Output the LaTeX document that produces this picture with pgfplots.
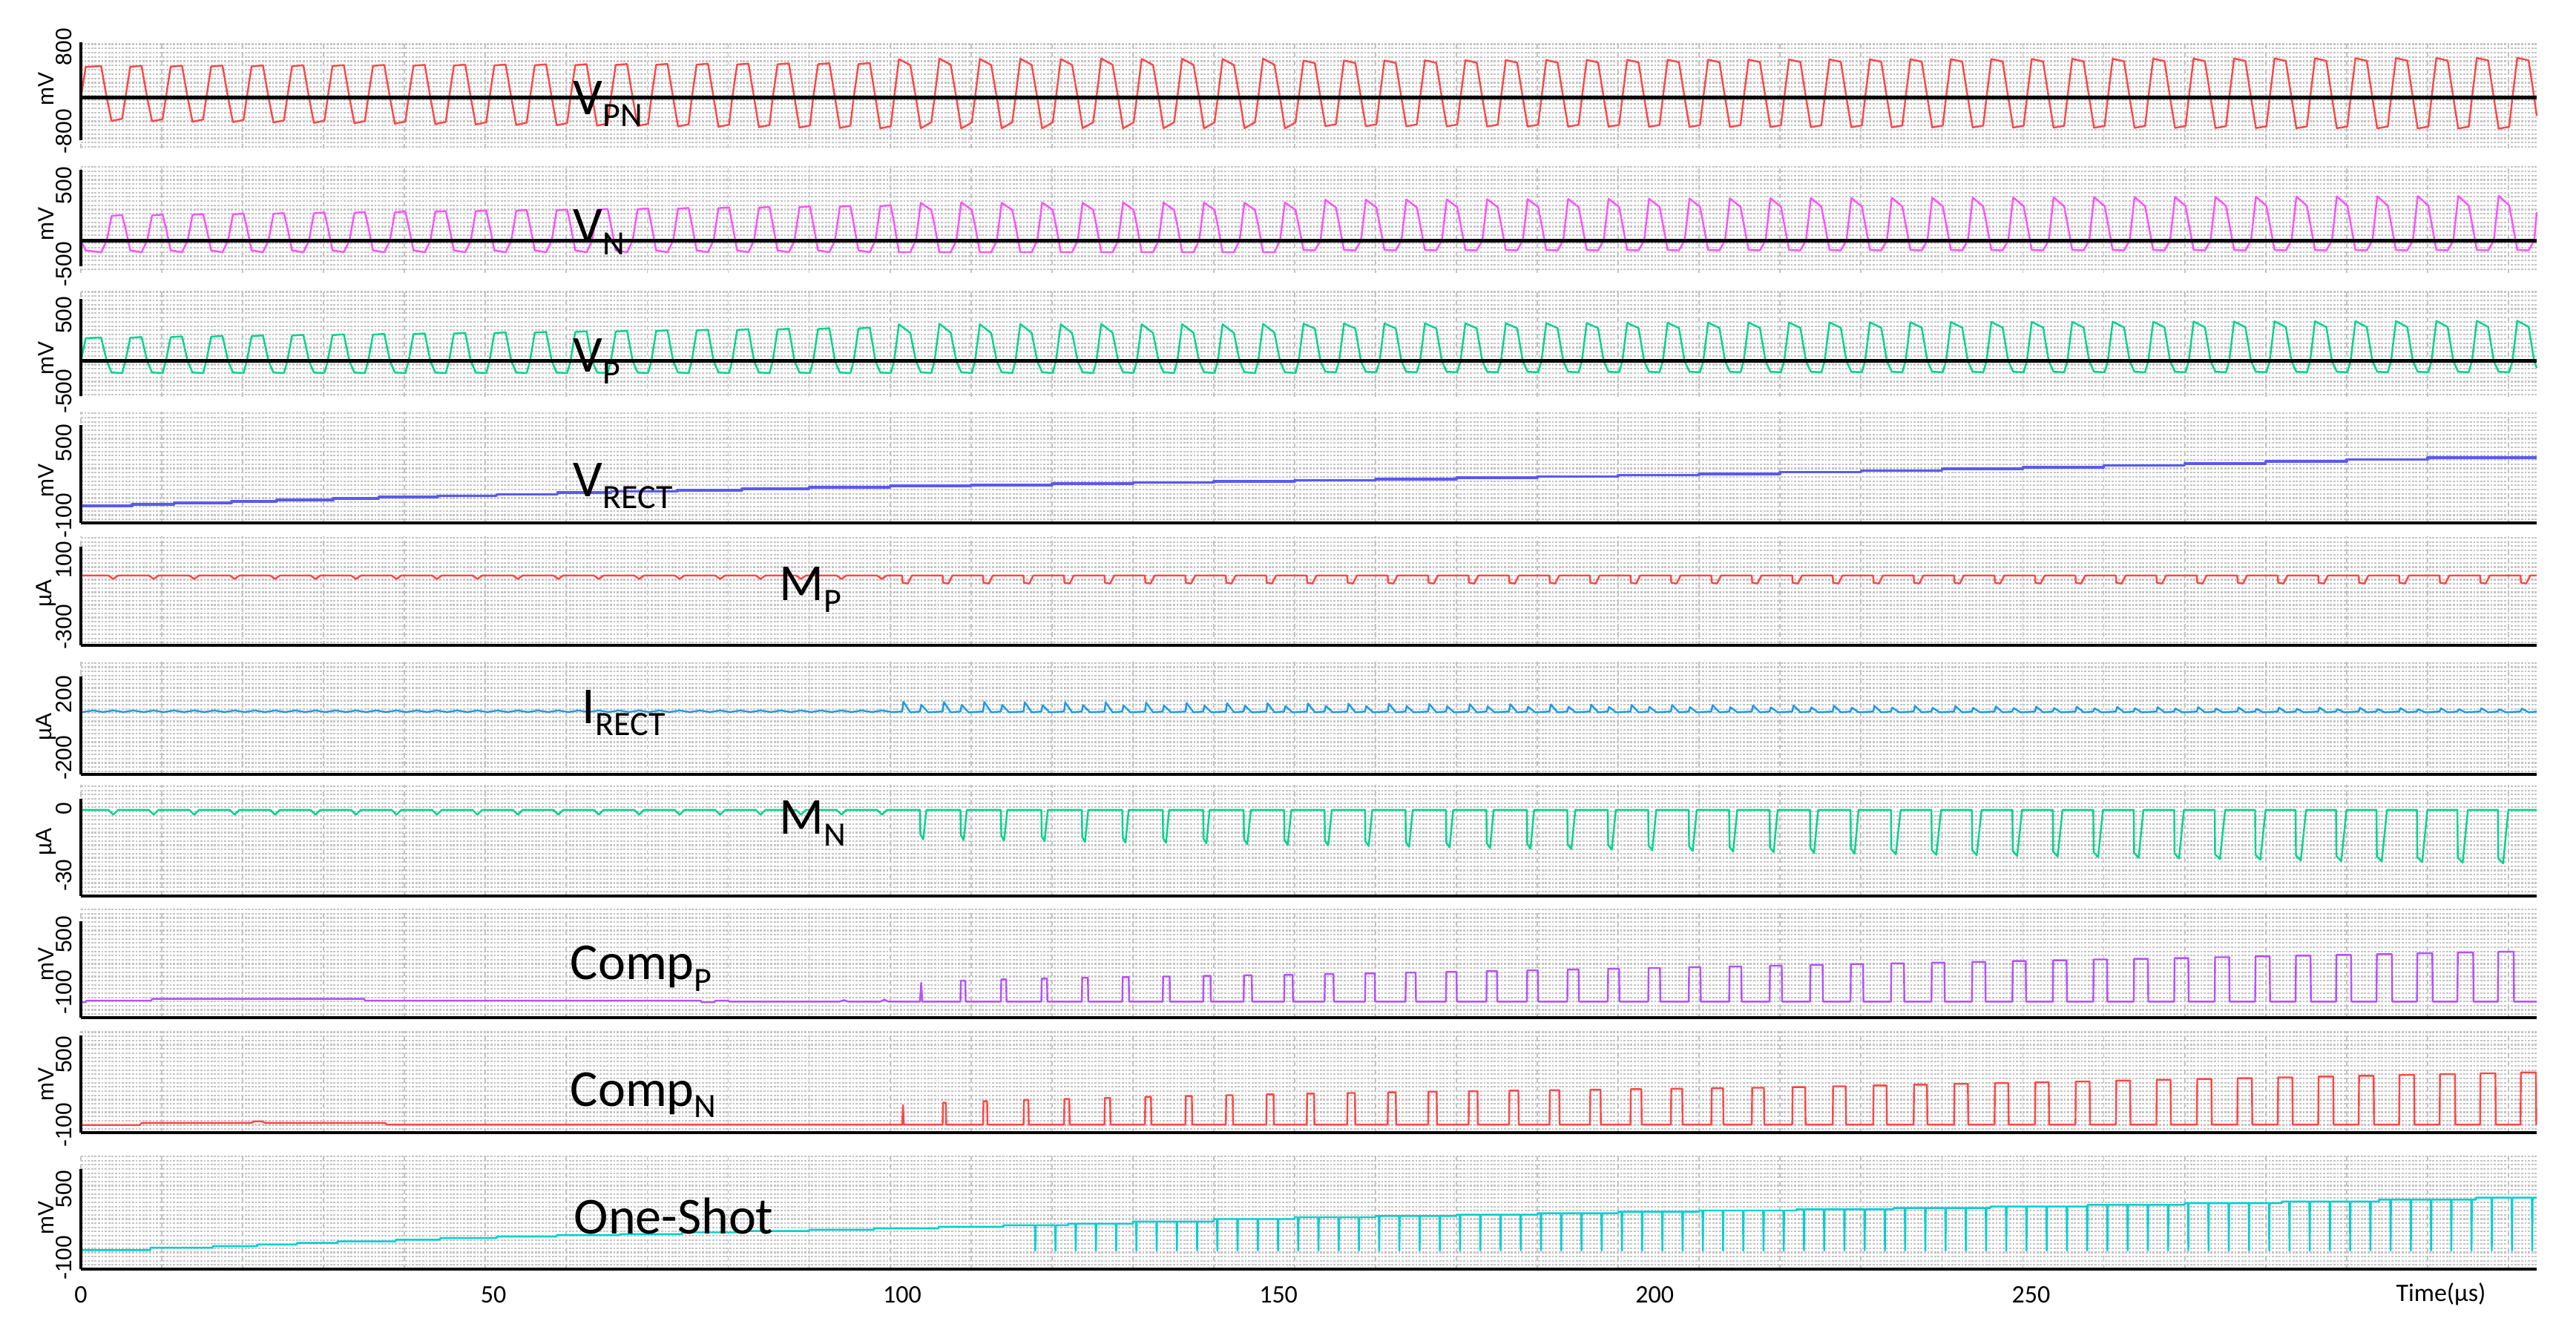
\documentclass[border=0pt]{standalone}
\usepackage{fontspec}
\setmainfont{Carlito}
\newfontfamily\lab{Liberation Sans}
\usepackage{pgfplots}
\usepackage{pgfplotstable}
\pgfplotsset{compat=1.18}

\definecolor{cred}{RGB}{255,70,70}
\definecolor{cmag}{RGB}{255,80,255}
\definecolor{cgrn}{RGB}{0,212,140}
\definecolor{cblu}{RGB}{90,90,238}
\definecolor{csky}{RGB}{30,155,230}
\definecolor{cpur}{RGB}{182,80,255}
\definecolor{ccyn}{RGB}{0,208,208}
\definecolor{gridc}{RGB}{196,196,196}

% VPN (a), VN (b), VP (c), shared time axis in us
\pgfplotstableread{
t a b c
0 -109 -231 -141
0.6 397 -335 95
2.5 412 -354 103
3.2 -109 -231 -141
3.8 -485 23 -258
5.1 -450 31 -263
5.5 -109 -100 -141
6.1 400 -335 100
7.5 415 -354 108
8.2 -109 -231 -141
8.8 -491 28 -258
10.1 -456 36 -263
10.5 -109 -98 -141
11.1 402 -335 106
12.5 417 -354 114
13.2 -109 -231 -141
13.8 -498 34 -258
15.1 -463 42 -263
15.5 -109 -95 -141
16.1 405 -335 111
17.5 420 -354 119
18.2 -109 -231 -141
18.8 -504 39 -258
20.1 -469 47 -263
20.5 -109 -92 -141
21.1 407 -335 116
22.5 422 -354 124
23.2 -109 -231 -141
23.8 -511 44 -258
25.1 -476 52 -263
25.5 -109 -90 -141
26.1 410 -335 122
27.5 425 -354 130
28.2 -109 -231 -141
28.8 -517 50 -258
30.1 -482 58 -263
30.5 -109 -87 -141
31.1 412 -335 127
32.5 427 -354 135
33.2 -109 -231 -141
33.8 -523 55 -258
35.1 -488 63 -263
35.5 -109 -84 -141
36.1 415 -335 132
37.5 430 -354 140
38.2 -109 -231 -141
38.8 -530 60 -258
40.1 -495 68 -263
40.5 -109 -82 -141
41.1 417 -335 137
42.5 432 -354 145
43.2 -109 -231 -141
43.8 -536 65 -258
45.1 -501 73 -263
45.5 -109 -79 -141
46.1 420 -335 143
47.5 435 -354 151
48.2 -109 -231 -141
48.8 -543 71 -258
50.1 -508 79 -263
50.5 -109 -76 -141
51.1 422 -335 148
52.5 437 -354 156
53.2 -109 -231 -141
53.8 -549 76 -258
55.1 -514 84 -263
55.5 -109 -74 -141
56.1 425 -335 153
57.5 440 -354 161
58.2 -109 -231 -141
58.8 -555 81 -258
60.1 -520 89 -263
60.5 -109 -71 -141
61.1 427 -335 159
62.5 442 -354 167
63.2 -109 -231 -141
63.8 -562 87 -258
65.1 -527 95 -263
65.5 -109 -68 -141
66.1 430 -335 164
67.5 445 -354 172
68.2 -109 -231 -141
68.8 -568 92 -258
70.1 -533 100 -263
70.5 -109 -66 -141
71.1 432 -335 169
72.5 447 -354 177
73.2 -109 -231 -141
73.8 -575 97 -258
75.1 -540 105 -263
75.5 -109 -63 -141
76.1 435 -335 175
77.5 450 -354 183
78.2 -109 -231 -141
78.8 -581 103 -258
80.1 -546 111 -263
80.5 -109 -60 -141
81.1 437 -335 180
82.5 452 -354 188
83.2 -109 -231 -141
83.8 -587 108 -258
85.1 -552 116 -263
85.5 -109 -58 -141
86.1 440 -335 185
87.5 455 -354 193
88.2 -109 -231 -141
88.8 -594 113 -258
90.1 -559 121 -263
90.5 -109 -55 -141
91.1 442 -335 190
92.5 457 -354 198
93.2 -109 -231 -141
93.8 -600 118 -258
95.1 -565 126 -263
95.5 -109 -53 -141
96.1 445 -335 196
97.5 460 -354 204
98.2 -109 -231 -141
98.8 -606 124 -258
100.1 -571 132 -263
100.5 -109 -50 -141
101.1 525 -354 238
102.5 428 -354 150
103.2 -109 -231 -141
103.8 -604 158 -255
105.1 -508 84 -263
105.5 -109 -73 -141
106.1 535 -354 244
107.5 432 -354 152
108.2 -109 -231 -141
108.8 -608 163 -255
110.1 -511 86 -263
110.5 -109 -73 -141
111.1 528 -354 240
112.5 429 -354 148
113.2 -109 -231 -141
113.8 -605 159 -255
115.1 -509 84 -263
115.5 -109 -73 -141
116.1 532 -354 242
117.5 431 -354 151
118.2 -109 -231 -141
118.8 -607 161 -255
120.1 -510 85 -263
120.5 -109 -73 -141
121.1 526 -354 239
122.5 430 -354 149
123.2 -109 -231 -141
123.8 -604 158 -255
125.1 -508 86 -263
125.5 -109 -73 -141
126.1 534 -354 243
127.5 433 -354 152
128.2 -109 -231 -141
128.8 -607 162 -255
130.1 -511 85 -263
130.5 -109 -73 -141
131.1 529 -354 240
132.5 430 -354 150
133.2 -109 -231 -141
133.8 -605 160 -255
135.1 -509 84 -263
135.5 -109 -73 -141
136.1 531 -354 241
137.5 432 -354 151
138.2 -109 -231 -141
138.8 -606 161 -255
140.1 -510 86 -263
140.5 -109 -73 -141
141.1 527 -354 239
142.5 429 -354 149
143.2 -109 -231 -141
143.8 -604 159 -255
145.1 -508 85 -263
145.5 -109 -73 -141
146.1 533 -354 243
147.5 434 -354 153
148.2 -109 -231 -141
148.8 -607 162 -255
150.1 -511 85 -263
150.5 -109 -73 -141
151.1 500 -330 245
152.5 460 -335 195
153.2 -109 -231 -141
153.8 -570 190 -250
155.1 -540 110 -255
155.5 -109 -61 -141
156.1 502 -330 246
157.5 462 -335 196
158.2 -109 -231 -141
158.8 -571 191 -250
160.1 -541 111 -255
160.5 -109 -60 -141
161.1 503 -330 247
162.5 463 -335 196
163.2 -109 -231 -141
163.8 -573 193 -250
165.1 -543 111 -255
165.5 -109 -60 -141
166.1 505 -330 248
167.5 465 -335 197
168.2 -109 -231 -141
168.8 -574 194 -250
170.1 -544 112 -255
170.5 -109 -60 -141
171.1 506 -330 249
172.5 466 -335 197
173.2 -109 -231 -141
173.8 -576 196 -250
175.1 -546 113 -255
175.5 -109 -59 -141
176.1 508 -330 250
177.5 468 -335 198
178.2 -109 -231 -141
178.8 -577 197 -250
180.1 -547 114 -255
180.5 -109 -59 -141
181.1 509 -330 251
182.5 469 -335 199
183.2 -109 -231 -141
183.8 -578 198 -250
185.1 -548 114 -255
185.5 -109 -59 -141
186.1 511 -330 252
187.5 471 -335 199
188.2 -109 -231 -141
188.8 -580 200 -250
190.1 -550 115 -255
190.5 -109 -58 -141
191.1 512 -330 253
192.5 472 -335 200
193.2 -109 -231 -141
193.8 -581 201 -250
195.1 -551 116 -255
195.5 -109 -58 -141
196.1 514 -330 254
197.5 474 -335 200
198.2 -109 -231 -141
198.8 -583 203 -250
200.1 -553 116 -255
200.5 -109 -58 -141
201.1 515 -330 255
202.5 475 -335 201
203.2 -109 -231 -141
203.8 -584 204 -250
205.1 -554 117 -255
205.5 -109 -57 -141
206.1 517 -330 256
207.5 477 -335 202
208.2 -109 -231 -141
208.8 -585 205 -250
210.1 -555 118 -255
210.5 -109 -57 -141
211.1 518 -330 257
212.5 478 -335 202
213.2 -109 -231 -141
213.8 -587 207 -250
215.1 -557 118 -255
215.5 -109 -57 -141
216.1 520 -330 258
217.5 480 -335 203
218.2 -109 -231 -141
218.8 -588 208 -250
220.1 -558 119 -255
220.5 -109 -56 -141
221.1 521 -330 259
222.5 481 -335 203
223.2 -109 -231 -141
223.8 -590 210 -250
225.1 -560 120 -255
225.5 -109 -56 -141
226.1 523 -330 260
227.5 483 -335 204
228.2 -109 -231 -141
228.8 -591 211 -250
230.1 -561 121 -255
230.5 -109 -55 -141
231.1 524 -330 261
232.5 484 -335 205
233.2 -109 -231 -141
233.8 -592 212 -250
235.1 -562 121 -255
235.5 -109 -55 -141
236.1 526 -330 262
237.5 486 -335 205
238.2 -109 -231 -141
238.8 -594 214 -250
240.1 -564 122 -255
240.5 -109 -55 -141
241.1 527 -330 263
242.5 487 -335 206
243.2 -109 -231 -141
243.8 -595 215 -250
245.1 -565 123 -255
245.5 -109 -54 -141
246.1 529 -330 264
247.5 489 -335 206
248.2 -109 -231 -141
248.8 -597 217 -250
250.1 -567 123 -255
250.5 -109 -54 -141
251.1 530 -330 265
252.5 490 -335 207
253.2 -109 -231 -141
253.8 -598 218 -250
255.1 -568 124 -255
255.5 -109 -54 -141
256.1 532 -330 266
257.5 492 -335 208
258.2 -109 -231 -141
258.8 -599 219 -250
260.1 -569 125 -255
260.5 -109 -53 -141
261.1 533 -330 267
262.5 493 -335 208
263.2 -109 -231 -141
263.8 -601 221 -250
265.1 -571 125 -255
265.5 -109 -53 -141
266.1 535 -330 268
267.5 495 -335 209
268.2 -109 -231 -141
268.8 -602 222 -250
270.1 -572 126 -255
270.5 -109 -53 -141
271.1 536 -330 269
272.5 496 -335 209
273.2 -109 -231 -141
273.8 -604 224 -250
275.1 -574 127 -255
275.5 -109 -52 -141
276.1 538 -330 270
277.5 498 -335 210
278.2 -109 -231 -141
278.8 -605 225 -250
280.1 -575 128 -255
280.5 -109 -52 -141
281.1 539 -330 271
282.5 499 -335 211
283.2 -109 -231 -141
283.8 -606 226 -250
285.1 -576 128 -255
285.5 -109 -52 -141
286.1 541 -330 272
287.5 501 -335 211
288.2 -109 -231 -141
288.8 -608 228 -250
290.1 -578 129 -255
290.5 -109 -51 -141
291.1 542 -330 273
292.5 502 -335 212
293.2 -109 -231 -141
293.8 -609 229 -250
295.1 -579 130 -255
295.5 -109 -51 -141
296.1 544 -330 274
297.5 504 -335 212
298.2 -109 -231 -141
298.8 -611 231 -250
300.1 -581 130 -255
300.5 -109 -50 -141
301.1 545 -330 275
302.5 505 -335 213
303.2 -109 -231 -141
303.5 -400 60 -210
}\trio

\pgfplotsset{
  panel/.style={
    scale only axis, width=827.5pt, anchor=north west,
    xmin=0, xmax=303.5, clip=false,
    axis line style={draw=none},
    major tick length=0pt, minor tick length=0pt,
    xtick={0,10,...,300}, xticklabels={},
    yticklabels={},
    xmajorgrids, ymajorgrids,
    x grid style={color=gridc, dash pattern=on 1.6pt off 1.2pt, line width=0.45pt},
    y grid style={color=gridc, dash pattern=on 0.7pt off 0.45pt, line width=0.55pt},
    extra y tick style={grid=none},
    yticklabel style={rotate=90, anchor=south, inner sep=0pt,
      font=\lab\fontsize{7.5}{8}\selectfont},
    yticklabel shift=2.75pt,
    ylabel style={at={(axis description cs:-0.0142,#1)}, anchor=center,
      inner sep=0pt, font=\lab\fontsize{7.5}{8}\selectfont},
    every axis plot/.append style={line width=0.6pt, line join=round},
  },
}
\tikzset{blk/.style={line width=1.1pt, black}}

\newcommand{\sig}[2]{\fontsize{17.5}{18}\selectfont #1\raisebox{-3.8pt}{\fontsize{11.5}{12}\selectfont #2}}

\begin{document}
\begin{tikzpicture}
\path[use as bounding box] (0,0) rectangle (868pt,-446.25pt);

% V_PN
\begin{axis}[panel=0.56, at={(27.25pt,-14.25pt)}, height=35.75pt,
  ymin=-933, ymax=800, ytick distance=70,
  extra y ticks={-655,727}, extra y tick labels={-800,800}, ylabel={mV}]
\addplot[cred] table[x=t,y=a] {\trio};
\addplot[black, line width=1.25pt] coordinates {(0,-109) (303.5,-109)};
\draw[blk] (axis cs:0,-800) -- (axis cs:0,800);
\end{axis}

% V_N
\begin{axis}[panel=0.455, at={(27.25pt,-55.75pt)}, height=36.25pt,
  ymin=-569, ymax=546, ytick distance=44,
  extra y ticks={-477,338}, extra y tick labels={-500,500}, ylabel={mV}]
\addplot[cmag] table[x=t,y=b] {\trio};
\addplot[black, line width=1.25pt] coordinates {(0,-231) (303.5,-231)};
\draw[blk] (axis cs:0,-500) -- (axis cs:0,500);
\end{axis}

% V_P
\begin{axis}[panel=0.36, at={(27.25pt,-97.5pt)}, height=36.25pt,
  ymin=-508, ymax=599, ytick distance=44,
  extra y ticks={-454,332}, extra y tick labels={-500,500}, ylabel={mV}]
\addplot[cgrn] table[x=t,y=c] {\trio};
\addplot[black, line width=1.25pt] coordinates {(0,-141) (303.5,-141)};
\draw[blk] (axis cs:0,-500) -- (axis cs:0,500);
\end{axis}

% V_RECT
\begin{axis}[panel=0.38, at={(27.25pt,-138.75pt)}, height=37.5pt,
  ymin=-100, ymax=582, ytick distance=26,
  extra y ticks={-55,391}, extra y tick labels={-100,500}, ylabel={mV}]
\addplot[cblu, line width=0.9pt] coordinates {
(0,5.5)(6.3,5.5)(6.3,14)(11.5,14)(11.5,23)(18.6,23)(18.6,32)(24.2,32)(24.2,40)(31.2,40)
(31.2,49)(36.8,49)(36.8,58)(44.1,58)(44.1,66)(51.4,66)(51.4,75)(58.9,75)(58.9,87)(65.5,87)
(65.5,93)(73.7,93)(73.7,101)(81.7,101)(81.7,110)(90,110)(90,118)(100,118)(100,126)(110,126)
(110,133)(120,133)(120,140)(130,140)(130,147)(140,147)(140,154)(150,154)(150,161)(160,161)
(160,169)(170,169)(170,177)(180,177)(180,185)(190,185)(190,193)(200,193)(200,201)(210,201)
(210,211)(220,211)(220,221)(230,221)(230,231)(240,231)(240,241)(250,241)(250,253)(260,253)
(260,265)(270,265)(270,277)(280,277)(280,289)(290,289)(290,301)(303.5,301)};
\draw[blk] (axis cs:0,-100) -- (axis cs:0,500);
\draw[blk] (axis cs:0,-100) -- (axis cs:303.5,-100);
\end{axis}

% M_P
\begin{axis}[panel=0.476, at={(27.25pt,-180.75pt)}, height=36.75pt,
  ymin=-300, ymax=142, ytick distance=17,
  extra y ticks={-225,46}, extra y tick labels={-300,100}, ylabel={µA}]
\addplot[cred] coordinates {
(0,-17)(3.4,-17)(4,-31)(4.6,-17)(8.4,-17)(9,-31)(9.6,-17)(13.4,-17)(14,-31)(14.6,-17)
(18.4,-17)(19,-31)(19.6,-17)(23.4,-17)(24,-31)(24.6,-17)(28.4,-17)(29,-31)(29.6,-17)
(33.4,-17)(34,-31)(34.6,-17)(38.4,-17)(39,-31)(39.6,-17)(43.4,-17)(44,-31)(44.6,-17)
(48.4,-17)(49,-31)(49.6,-17)(53.4,-17)(54,-31)(54.6,-17)(58.4,-17)(59,-31)(59.6,-17)
(63.4,-17)(64,-31)(64.6,-17)(68.4,-17)(69,-31)(69.6,-17)(73.4,-17)(74,-31)(74.6,-17)
(78.4,-17)(79,-31)(79.6,-17)(83.4,-17)(84,-31)(84.6,-17)(88.4,-17)(89,-31)(89.6,-17)
(93.4,-17)(94,-31)(94.6,-17)(98.4,-17)(99,-31)(99.6,-17)
(101.5,-17)(101.55,-46)(102.2,-50)(102.7,-17)(106.5,-17)(106.55,-46)(107.2,-50)(107.7,-17)
(111.5,-17)(111.55,-46)(112.2,-50)(112.7,-17)(116.5,-17)(116.55,-46)(117.2,-50)(117.7,-17)
(121.5,-17)(121.55,-46)(122.2,-50)(122.7,-17)(126.5,-17)(126.55,-46)(127.2,-50)(127.7,-17)
(131.5,-17)(131.55,-46)(132.2,-50)(132.7,-17)(136.5,-17)(136.55,-46)(137.2,-50)(137.7,-17)
(141.5,-17)(141.55,-46)(142.2,-50)(142.7,-17)(146.5,-17)(146.55,-46)(147.2,-50)(147.7,-17)
(151.5,-17)(151.55,-46)(152.2,-50)(152.7,-17)(156.5,-17)(156.55,-46)(157.2,-50)(157.7,-17)
(161.5,-17)(161.55,-46)(162.2,-50)(162.7,-17)(166.5,-17)(166.55,-46)(167.2,-50)(167.7,-17)
(171.5,-17)(171.55,-46)(172.2,-50)(172.7,-17)(176.5,-17)(176.55,-46)(177.2,-50)(177.7,-17)
(181.5,-17)(181.55,-46)(182.2,-50)(182.7,-17)(186.5,-17)(186.55,-46)(187.2,-50)(187.7,-17)
(191.5,-17)(191.55,-46)(192.2,-50)(192.7,-17)(196.5,-17)(196.55,-46)(197.2,-50)(197.7,-17)
(201.5,-17)(201.55,-46)(202.2,-50)(202.7,-17)(206.5,-17)(206.55,-46)(207.2,-50)(207.7,-17)
(211.5,-17)(211.55,-46)(212.2,-50)(212.7,-17)(216.5,-17)(216.55,-46)(217.2,-50)(217.7,-17)
(221.5,-17)(221.55,-46)(222.2,-50)(222.7,-17)(226.5,-17)(226.55,-46)(227.2,-50)(227.7,-17)
(231.5,-17)(231.55,-46)(232.2,-50)(232.7,-17)(236.5,-17)(236.55,-46)(237.2,-50)(237.7,-17)
(241.5,-17)(241.55,-46)(242.2,-50)(242.7,-17)(246.5,-17)(246.55,-46)(247.2,-50)(247.7,-17)
(251.5,-17)(251.55,-46)(252.2,-50)(252.7,-17)(256.5,-17)(256.55,-46)(257.2,-50)(257.7,-17)
(261.5,-17)(261.55,-46)(262.2,-50)(262.7,-17)(266.5,-17)(266.55,-46)(267.2,-50)(267.7,-17)
(271.5,-17)(271.55,-46)(272.2,-50)(272.7,-17)(276.5,-17)(276.55,-46)(277.2,-50)(277.7,-17)
(281.5,-17)(281.55,-46)(282.2,-50)(282.7,-17)(286.5,-17)(286.55,-46)(287.2,-50)(287.7,-17)
(291.5,-17)(291.55,-46)(292.2,-50)(292.7,-17)(296.5,-17)(296.55,-46)(297.2,-50)(297.7,-17)
(301.5,-17)(301.55,-46)(302.2,-50)(302.7,-17)(303.5,-17)};
\draw[blk] (axis cs:0,-300) -- (axis cs:0,100);
\draw[blk] (axis cs:0,-300) -- (axis cs:303.5,-300);
\end{axis}

% I_RECT
\begin{axis}[panel=0.413, at={(27.25pt,-222.25pt)}, height=38.75pt,
  ymin=-200, ymax=270, ytick distance=17,
  extra y ticks={-133,127}, extra y tick labels={-200,200}, ylabel={µA}]
\addplot[csky] coordinates {
(0,57)(0.25,55)(1.5,61)(2.75,55)(4,61)(5.25,55)(6.5,61)(7.75,55)(9,61)(10.25,55)(11.5,61)
(12.75,55)(14,61)(15.25,55)(16.5,61)(17.75,55)(19,61)(20.25,55)(21.5,61)(22.75,55)(24,61)
(25.25,55)(26.5,61)(27.75,55)(29,61)(30.25,55)(31.5,61)(32.75,55)(34,61)(35.25,55)(36.5,61)
(37.75,55)(39,61)(40.25,55)(41.5,61)(42.75,55)(44,61)(45.25,55)(46.5,61)(47.75,55)(49,61)
(50.25,55)(51.5,61)(52.75,55)(54,61)(55.25,55)(56.5,61)(57.75,55)(59,61)(60.25,55)(61.5,61)
(62.75,55)(64,61)(65.25,55)(66.5,61)(67.75,55)(69,61)(70.25,55)(71.5,61)(72.75,55)(74,61)
(75.25,55)(76.5,61)(77.75,55)(79,61)(80.25,55)(81.5,61)(82.75,55)(84,61)(85.25,55)(86.5,61)
(87.75,55)(89,61)(90.25,55)(91.5,61)(92.75,55)(94,61)(95.25,55)(96.5,61)(97.75,55)(99,61)
(100.25,55)
(101.5,57)(101.65,97)(102.5,54)(103.7,57)(103.85,85)(104.7,54)
(106.5,57)(106.65,96)(107.5,54)(108.7,57)(108.85,84)(109.7,54)
(111.5,57)(111.65,96)(112.5,54)(113.7,57)(113.85,84)(114.7,54)
(116.5,57)(116.65,95)(117.5,54)(118.7,57)(118.85,83)(119.7,54)
(121.5,57)(121.65,94)(122.5,54)(123.7,57)(123.85,83)(124.7,54)
(126.5,57)(126.65,94)(127.5,54)(128.7,57)(128.85,82)(129.7,54)
(131.5,57)(131.65,93)(132.5,54)(133.7,57)(133.85,82)(134.7,54)
(136.5,57)(136.65,92)(137.5,54)(138.7,57)(138.85,81)(139.7,54)
(141.5,57)(141.65,91)(142.5,54)(143.7,57)(143.85,81)(144.7,54)
(146.5,57)(146.65,91)(147.5,54)(148.7,57)(148.85,80)(149.7,54)
(151.5,57)(151.65,90)(152.5,54)(153.7,57)(153.85,80)(154.7,54)
(156.5,57)(156.65,89)(157.5,54)(158.7,57)(158.85,79)(159.7,54)
(161.5,57)(161.65,89)(162.5,54)(163.7,57)(163.85,79)(164.7,54)
(166.5,57)(166.65,88)(167.5,54)(168.7,57)(168.85,78)(169.7,54)
(171.5,57)(171.65,87)(172.5,54)(173.7,57)(173.85,78)(174.7,54)
(176.5,57)(176.65,87)(177.5,54)(178.7,57)(178.85,77)(179.7,54)
(181.5,57)(181.65,86)(182.5,54)(183.7,57)(183.85,77)(184.7,54)
(186.5,57)(186.65,85)(187.5,54)(188.7,57)(188.85,76)(189.7,54)
(191.5,57)(191.65,84)(192.5,54)(193.7,57)(193.85,76)(194.7,54)
(196.5,57)(196.65,84)(197.5,54)(198.7,57)(198.85,75)(199.7,54)
(201.5,57)(201.65,83)(202.5,54)(203.7,57)(203.85,75)(204.7,54)
(206.5,57)(206.65,82)(207.5,54)(208.7,57)(208.85,74)(209.7,54)
(211.5,57)(211.65,82)(212.5,54)(213.7,57)(213.85,74)(214.7,54)
(216.5,57)(216.65,81)(217.5,54)(218.7,57)(218.85,73)(219.7,54)
(221.5,57)(221.65,80)(222.5,54)(223.7,57)(223.85,73)(224.7,54)
(226.5,57)(226.65,80)(227.5,54)(228.7,57)(228.85,72)(229.7,54)
(231.5,57)(231.65,79)(232.5,54)(233.7,57)(233.85,72)(234.7,54)
(236.5,57)(236.65,78)(237.5,54)(238.7,57)(238.85,71)(239.7,54)
(241.5,57)(241.65,77)(242.5,54)(243.7,57)(243.85,71)(244.7,54)
(246.5,57)(246.65,77)(247.5,54)(248.7,57)(248.85,70)(249.7,54)
(251.5,57)(251.65,76)(252.5,54)(253.7,57)(253.85,70)(254.7,54)
(256.5,57)(256.65,75)(257.5,54)(258.7,57)(258.85,69)(259.7,54)
(261.5,57)(261.65,75)(262.5,54)(263.7,57)(263.85,69)(264.7,54)
(266.5,57)(266.65,74)(267.5,54)(268.7,57)(268.85,68)(269.7,54)
(271.5,57)(271.65,73)(272.5,54)(273.7,57)(273.85,68)(274.7,54)
(276.5,57)(276.65,73)(277.5,54)(278.7,57)(278.85,67)(279.7,54)
(281.5,57)(281.65,72)(282.5,54)(283.7,57)(283.85,67)(284.7,54)
(286.5,57)(286.65,71)(287.5,54)(288.7,57)(288.85,66)(289.7,54)
(291.5,57)(291.65,70)(292.5,54)(293.7,57)(293.85,66)(294.7,54)
(296.5,57)(296.65,70)(297.5,54)(298.7,57)(298.85,66)(299.7,54)
(301.5,57)(301.65,69)(302.5,54)(303.5,57)};
\draw[blk] (axis cs:0,-200) -- (axis cs:0,200);
\draw[blk] (axis cs:0,-200) -- (axis cs:303.5,-200);
\end{axis}

% M_N
\begin{axis}[panel=0.487, at={(27.25pt,-264.5pt)}, height=37.5pt,
  ymin=-30, ymax=4.35, ytick distance=1.3,
  extra y ticks={-23.6,-3}, extra y tick labels={-30,0}, ylabel={µA}]
\addplot[cgrn] coordinates {
(0,-3.4)(3.4,-3.4)(4,-4.9)(4.6,-3.4)(8.4,-3.4)(9,-4.9)(9.6,-3.4)(13.4,-3.4)(14,-4.9)(14.6,-3.4)
(18.4,-3.4)(19,-4.9)(19.6,-3.4)(23.4,-3.4)(24,-4.9)(24.6,-3.4)(28.4,-3.4)(29,-4.9)(29.6,-3.4)
(33.4,-3.4)(34,-4.9)(34.6,-3.4)(38.4,-3.4)(39,-4.9)(39.6,-3.4)(43.4,-3.4)(44,-4.9)(44.6,-3.4)
(48.4,-3.4)(49,-4.9)(49.6,-3.4)(53.4,-3.4)(54,-4.9)(54.6,-3.4)(58.4,-3.4)(59,-4.9)(59.6,-3.4)
(63.4,-3.4)(64,-4.9)(64.6,-3.4)(68.4,-3.4)(69,-4.9)(69.6,-3.4)(73.4,-3.4)(74,-4.9)(74.6,-3.4)
(78.4,-3.4)(79,-4.9)(79.6,-3.4)(83.4,-3.4)(84,-4.9)(84.6,-3.4)(88.4,-3.4)(89,-4.9)(89.6,-3.4)
(93.4,-3.4)(94,-4.9)(94.6,-3.4)(98.4,-3.4)(99,-4.9)(99.6,-3.4)
(103.7,-3.4)(103.75,-11)(104.1,-12.5)(104.5,-3.4)(108.7,-3.4)(108.75,-11.2)(109.1,-12.7)(109.5,-3.4)
(113.7,-3.4)(113.75,-11.4)(114.1,-12.9)(114.5,-3.4)(118.7,-3.4)(118.75,-11.6)(119.1,-13.1)(119.5,-3.4)
(123.7,-3.4)(123.75,-11.8)(124.1,-13.3)(124.5,-3.4)(128.7,-3.4)(128.75,-12)(129.1,-13.5)(129.5,-3.4)
(133.7,-3.4)(133.75,-12.1)(134.1,-13.6)(134.5,-3.4)(138.7,-3.4)(138.75,-12.3)(139.1,-13.8)(139.5,-3.4)
(143.7,-3.4)(143.75,-12.5)(144.15,-14)(144.6,-3.4)(148.7,-3.4)(148.75,-12.7)(149.15,-14.2)(149.6,-3.4)
(153.7,-3.4)(153.75,-12.9)(154.15,-14.4)(154.6,-3.4)(158.7,-3.4)(158.75,-13.1)(159.15,-14.6)(159.6,-3.4)
(163.7,-3.4)(163.75,-13.3)(164.15,-14.8)(164.6,-3.4)(168.7,-3.4)(168.75,-13.5)(169.15,-15)(169.6,-3.4)
(173.7,-3.4)(173.75,-13.7)(174.15,-15.2)(174.6,-3.4)(178.7,-3.4)(178.75,-13.9)(179.15,-15.4)(179.6,-3.4)
(183.7,-3.4)(183.75,-14)(184.2,-15.5)(184.7,-3.4)(188.7,-3.4)(188.75,-14.2)(189.2,-15.7)(189.7,-3.4)
(193.7,-3.4)(193.75,-14.4)(194.2,-15.9)(194.7,-3.4)(198.7,-3.4)(198.75,-14.6)(199.2,-16.1)(199.7,-3.4)
(203.7,-3.4)(203.75,-14.8)(204.2,-16.3)(204.7,-3.4)(208.7,-3.4)(208.75,-15)(209.2,-16.5)(209.7,-3.4)
(213.7,-3.4)(213.75,-15.2)(214.2,-16.7)(214.7,-3.4)(218.7,-3.4)(218.75,-15.4)(219.2,-16.9)(219.7,-3.4)
(223.7,-3.4)(223.75,-15.6)(224.3,-17.1)(224.9,-3.4)(228.7,-3.4)(228.75,-15.8)(229.3,-17.3)(229.9,-3.4)
(233.7,-3.4)(233.75,-15.9)(234.3,-17.4)(234.9,-3.4)(238.7,-3.4)(238.75,-16.1)(239.3,-17.6)(239.9,-3.4)
(243.7,-3.4)(243.75,-16.3)(244.3,-17.8)(244.9,-3.4)(248.7,-3.4)(248.75,-16.5)(249.3,-18)(249.9,-3.4)
(253.7,-3.4)(253.75,-16.7)(254.3,-18.2)(254.9,-3.4)(258.7,-3.4)(258.75,-16.9)(259.3,-18.4)(259.9,-3.4)
(263.7,-3.4)(263.75,-17.1)(264.35,-18.6)(265,-3.4)(268.7,-3.4)(268.75,-17.3)(269.35,-18.8)(270,-3.4)
(273.7,-3.4)(273.75,-17.5)(274.35,-19)(275,-3.4)(278.7,-3.4)(278.75,-17.7)(279.35,-19.2)(280,-3.4)
(283.7,-3.4)(283.75,-17.8)(284.35,-19.3)(285,-3.4)(288.7,-3.4)(288.75,-18)(289.35,-19.5)(290,-3.4)
(293.7,-3.4)(293.75,-18.2)(294.35,-19.7)(295,-3.4)(298.7,-3.4)(298.75,-18.4)(299.35,-19.9)(300,-3.4)
(303.5,-3.4)};
\draw[blk] (axis cs:0,-30) -- (axis cs:0,0);
\draw[blk] (axis cs:0,-30) -- (axis cs:303.5,-30);
\end{axis}

% Comp_P
\begin{axis}[panel=0.49, at={(27.25pt,-306.25pt)}, height=36.75pt,
  ymin=-100, ymax=578, ytick distance=26,
  extra y ticks={57,417}, extra y tick labels={-100,500}, ylabel={mV}]
\addplot[cpur] coordinates {
(0,-4)(0.6,-4)(0.7,6)(8.7,6)(8.8,17)(35,17)(35.1,6)(76.6,6)(76.7,-4)(78.3,-4)(78.4,6)(80,6)
(80.1,0)(93.8,0)(94.3,9)(94.8,0)(98.8,0)(99.3,12)(99.8,0)
(103.7,0)(103.85,117)(104,0)
(108.7,0)(108.75,130)(109.3,130)(109.35,0)(113.7,0)(113.75,138)(114.35,138)(114.4,0)
(118.7,0)(118.75,143)(119.4,143)(119.45,0)(123.7,0)(123.75,148)(124.45,148)(124.5,0)
(128.7,0)(128.75,152)(129.5,152)(129.55,0)(133.7,0)(133.75,156)(134.55,156)(134.6,0)
(138.7,0)(138.75,160)(139.6,160)(139.65,0)(143.7,0)(143.75,164)(144.7,164)(144.75,0)
(148.7,0)(148.75,167)(149.75,167)(149.8,0)(153.7,0)(153.75,171)(154.8,171)(154.85,0)
(158.7,0)(158.75,175)(159.9,175)(159.95,0)(163.7,0)(163.75,180)(164.95,180)(165,0)
(168.7,0)(168.75,185)(170,185)(170.05,0)(173.7,0)(173.75,190)(175,190)(175.05,0)
(178.7,0)(178.75,194)(180.05,194)(180.1,0)(183.7,0)(183.75,199)(185.1,199)(185.15,0)
(188.7,0)(188.75,204)(190.1,204)(190.15,0)(193.7,0)(193.75,209)(195.15,209)(195.2,0)
(198.7,0)(198.75,214)(200.15,214)(200.2,0)(203.7,0)(203.75,218)(205.2,218)(205.25,0)
(208.7,0)(208.75,223)(210.2,223)(210.25,0)(213.7,0)(213.75,228)(215.25,228)(215.3,0)
(218.7,0)(218.75,233)(220.25,233)(220.3,0)(223.7,0)(223.75,238)(225.3,238)(225.35,0)
(228.7,0)(228.75,242)(230.3,242)(230.35,0)(233.7,0)(233.75,247)(235.35,247)(235.4,0)
(238.7,0)(238.75,252)(240.35,252)(240.4,0)(243.7,0)(243.75,257)(245.4,257)(245.45,0)
(248.7,0)(248.75,262)(250.4,262)(250.45,0)(253.7,0)(253.75,266)(255.45,266)(255.5,0)
(258.7,0)(258.75,271)(260.45,271)(260.5,0)(263.7,0)(263.75,276)(265.5,276)(265.55,0)
(268.7,0)(268.75,281)(270.5,281)(270.55,0)(273.7,0)(273.75,286)(275.55,286)(275.6,0)
(278.7,0)(278.75,290)(280.55,290)(280.6,0)(283.7,0)(283.75,295)(285.6,295)(285.65,0)
(288.7,0)(288.75,300)(290.6,300)(290.65,0)(293.7,0)(293.75,305)(295.65,305)(295.7,0)
(298.7,0)(298.75,310)(300.65,310)(300.7,0)(303.5,0)};
\draw[blk] (axis cs:0,-100) -- (axis cs:0,500);
\draw[blk] (axis cs:0,-100) -- (axis cs:303.5,-100);
\end{axis}

% Comp_N
\begin{axis}[panel=0.474, at={(27.25pt,-347.5pt)}, height=34.25pt,
  ymin=-100, ymax=527, ytick distance=26,
  extra y ticks={-54,381}, extra y tick labels={-100,500}, ylabel={mV}]
\addplot[cred] coordinates {
(0,-53)(7.3,-53)(7.5,-40)(21,-40)(21.5,-30)(22.3,-30)(22.8,-40)(37.6,-40)(37.8,-50)
(101.5,-50)(101.6,70)(101.7,-50)
(106.5,-50)(106.55,85)(106.9,85)(106.95,-50)(111.5,-50)(111.55,94)(112,94)(112.05,-50)
(116.5,-50)(116.55,102)(117.1,102)(117.15,-50)(121.5,-50)(121.55,108)(122.15,108)(122.2,-50)
(126.5,-50)(126.55,114)(127.2,114)(127.25,-50)(131.5,-50)(131.55,120)(132.25,120)(132.3,-50)
(136.5,-50)(136.55,126)(137.3,126)(137.35,-50)(141.5,-50)(141.55,131)(142.35,131)(142.4,-50)
(146.5,-50)(146.55,136)(147.4,136)(147.45,-50)(151.5,-50)(151.55,141)(152.4,141)(152.45,-50)
(156.5,-50)(156.55,145)(157.45,145)(157.5,-50)(161.5,-50)(161.55,149)(162.5,149)(162.55,-50)
(166.5,-50)(166.55,153)(167.55,153)(167.6,-50)(171.5,-50)(171.55,156)(172.6,156)(172.65,-50)
(176.5,-50)(176.55,159)(177.65,159)(177.7,-50)(181.5,-50)(181.55,162)(182.7,162)(182.75,-50)
(186.5,-50)(186.55,165)(187.8,165)(187.85,-50)(191.5,-50)(191.55,168)(192.85,168)(192.9,-50)
(196.5,-50)(196.55,171)(197.9,171)(197.95,-50)(201.5,-50)(201.55,174)(202.95,174)(203,-50)
(206.5,-50)(206.55,177)(208,177)(208.05,-50)(211.5,-50)(211.55,181)(213.1,181)(213.15,-50)
(216.5,-50)(216.55,186)(218.1,186)(218.15,-50)(221.5,-50)(221.55,191)(223.15,191)(223.2,-50)
(226.5,-50)(226.55,196)(228.15,196)(228.2,-50)(231.5,-50)(231.55,201)(233.2,201)(233.25,-50)
(236.5,-50)(236.55,206)(238.2,206)(238.25,-50)(241.5,-50)(241.55,211)(243.2,211)(243.25,-50)
(246.5,-50)(246.55,216)(248.25,216)(248.3,-50)(251.5,-50)(251.55,221)(253.25,221)(253.3,-50)
(256.5,-50)(256.55,226)(258.25,226)(258.3,-50)(261.5,-50)(261.55,231)(263.3,231)(263.35,-50)
(266.5,-50)(266.55,236)(268.3,236)(268.35,-50)(271.5,-50)(271.55,241)(273.3,241)(273.35,-50)
(276.5,-50)(276.55,246)(278.35,246)(278.4,-50)(281.5,-50)(281.55,251)(283.35,251)(283.4,-50)
(286.5,-50)(286.55,256)(288.35,256)(288.4,-50)(291.5,-50)(291.55,261)(293.4,261)(293.45,-50)
(296.5,-50)(296.55,266)(298.4,266)(298.45,-50)(301.5,-50)(301.55,271)(303.4,271)(303.45,-50)
(303.5,-50)};
\draw[blk] (axis cs:0,-100) -- (axis cs:0,500);
\draw[blk] (axis cs:0,-100) -- (axis cs:303.5,-100);
\end{axis}

% One-Shot
\begin{axis}[panel=0.45, at={(27.25pt,-389.5pt)}, height=38.25pt,
  ymin=-100, ymax=580, ytick distance=25,
  extra y ticks={-33,380}, extra y tick labels={-100,500}, ylabel={mV},
  extra x ticks={0,51,101.5,148,194.5,241},
  extra x tick labels={0,50,100,150,200,250},
  extra x tick style={grid=none},
  xticklabel style={font=\fontsize{8.5}{9}\selectfont, anchor=north, inner sep=0pt},
  xticklabel shift=5.75pt]
\addplot[ccyn] coordinates {
(0,14)(8.6,14)(8.6,28)(16.3,28)(16.3,37)(21.8,37)(21.8,47)(26.7,47)(26.7,57)(31.7,57)
(31.7,66)(38.9,66)(38.9,76)(44.4,76)(44.4,86)(51.4,86)(51.4,95)(58.8,95)(58.8,104)(66.6,104)
(66.6,110)(74.3,110)(74.3,120)(82,120)(82,128)(90,128)(90,136)(98,136)(98,144)(106,144)
(106,154)(114,154)(114,163)
(117.9,163)(117.95,11)(118,163)(120.4,163)(120.45,11)(120.5,163)
(122,163)(122,172)
(122.9,172)(122.95,11)(123,172)(125.4,172)(125.45,11)(125.5,172)(127.9,172)(127.95,11)(128,172)
(130,172)(130,185)
(130.4,185)(130.45,11)(130.5,185)(132.9,185)(132.95,11)(133,185)(135.4,185)(135.45,11)(135.5,185)
(137.9,185)(137.95,11)(138,185)
(140,185)(140,200)
(140.4,200)(140.45,11)(140.5,200)(142.9,200)(142.95,11)(143,200)(145.4,200)(145.45,11)(145.5,200)
(147.9,200)(147.95,11)(148,200)
(150,200)(150,211)
(150.4,211)(150.45,11)(150.5,211)(152.9,211)(152.95,11)(153,211)(155.4,211)(155.45,11)(155.5,211)
(157.9,211)(157.95,11)(158,211)
(160,211)(160,218)
(160.4,218)(160.45,11)(160.5,218)(162.9,218)(162.95,11)(163,218)(165.4,218)(165.45,11)(165.5,218)
(167.9,218)(167.95,11)(168,218)
(170,218)(170,226)
(170.4,226)(170.45,11)(170.5,226)(172.9,226)(172.95,11)(173,226)(175.4,226)(175.45,11)(175.5,226)
(177.9,226)(177.95,11)(178,226)
(180,226)(180,235)
(180.4,235)(180.45,11)(180.5,235)(182.9,235)(182.95,11)(183,235)(185.4,235)(185.45,11)(185.5,235)
(187.9,235)(187.95,11)(188,235)
(190,235)(190,244)
(190.4,244)(190.45,11)(190.5,244)(192.9,244)(192.95,11)(193,244)(195.4,244)(195.45,11)(195.5,244)
(197.9,244)(197.95,11)(198,244)
(200,244)(200,251)
(200.4,251)(200.45,11)(200.5,251)(202.9,251)(202.95,11)(203,251)(205.4,251)(205.45,11)(205.5,251)
(207.9,251)(207.95,11)(208,251)(210.4,251)(210.45,11)(210.5,251)
(212,251)(212,258)
(212.9,258)(212.95,11)(213,258)(215.4,258)(215.45,11)(215.5,258)(217.9,258)(217.95,11)(218,258)
(220.4,258)(220.45,11)(220.5,258)(222.9,258)(222.95,11)(223,258)
(224,258)(224,266)
(225.4,266)(225.45,11)(225.5,266)(227.9,266)(227.95,11)(228,266)(230.4,266)(230.45,11)(230.5,266)
(232.9,266)(232.95,11)(233,266)(235.4,266)(235.45,11)(235.5,266)
(236,266)(236,275)
(237.9,275)(237.95,11)(238,275)(240.4,275)(240.45,11)(240.5,275)(242.9,275)(242.95,11)(243,275)
(245.4,275)(245.45,11)(245.5,275)(247.9,275)(247.95,11)(248,275)
(248,285)
(250.4,285)(250.45,11)(250.5,285)(252.9,285)(252.95,11)(253,285)(255.4,285)(255.45,11)(255.5,285)
(257.9,285)(257.95,11)(258,285)
(260,285)(260,295)
(260.4,295)(260.45,11)(260.5,295)(262.9,295)(262.95,11)(263,295)(265.4,295)(265.45,11)(265.5,295)
(267.9,295)(267.95,11)(268,295)(270.4,295)(270.45,11)(270.5,295)
(272,295)(272,305)
(272.9,305)(272.95,11)(273,305)(275.4,305)(275.45,11)(275.5,305)(277.9,305)(277.95,11)(278,305)
(280.4,305)(280.45,11)(280.5,305)(282.9,305)(282.95,11)(283,305)
(284,305)(284,316)
(285.4,316)(285.45,11)(285.5,316)(287.9,316)(287.95,11)(288,316)(290.4,316)(290.45,11)(290.5,316)
(292.9,316)(292.95,11)(293,316)(295.4,316)(295.45,11)(295.5,316)
(296,316)(296,328)
(297.9,328)(297.95,11)(298,328)(300.4,328)(300.45,11)(300.5,328)(302.9,328)(302.95,11)(303,328)
(303.5,328)};
\draw[blk] (axis cs:0,-100) -- (axis cs:0,500);
\draw[blk] (axis cs:0,-100) -- (axis cs:303.5,-100);
\end{axis}

% signal names
\node[anchor=base west, inner sep=0pt] at (193pt,-38.75pt) {\sig{V}{PN}};
\node[anchor=base west, inner sep=0pt] at (193pt,-82pt) {\sig{V}{N}};
\node[anchor=base west, inner sep=0pt] at (193pt,-125.5pt) {\sig{V}{P}};
\node[anchor=base west, inner sep=0pt] at (193pt,-167.5pt) {\sig{V}{RECT}};
\node[anchor=base west, inner sep=0pt] at (262.5pt,-202.5pt) {\sig{M}{P}};
\node[anchor=base west, inner sep=0pt] at (196pt,-244pt) {\sig{I}{RECT}};
\node[anchor=base west, inner sep=0pt] at (262.5pt,-281.25pt) {\sig{M}{N}};
\node[anchor=base west, inner sep=0pt] at (192pt,-330.25pt) {\sig{Comp}{P}};
\node[anchor=base west, inner sep=0pt] at (192pt,-372.75pt) {\sig{Comp}{N}};
\node[anchor=base west, inner sep=0pt] at (193.25pt,-415.75pt) {\fontsize{17.5}{18}\selectfont One-Shot};
\node[font=\fontsize{8.5}{9}\selectfont, inner sep=0pt] at (822.5pt,-436.25pt) {Time(µs)};
\end{tikzpicture}
\end{document}
